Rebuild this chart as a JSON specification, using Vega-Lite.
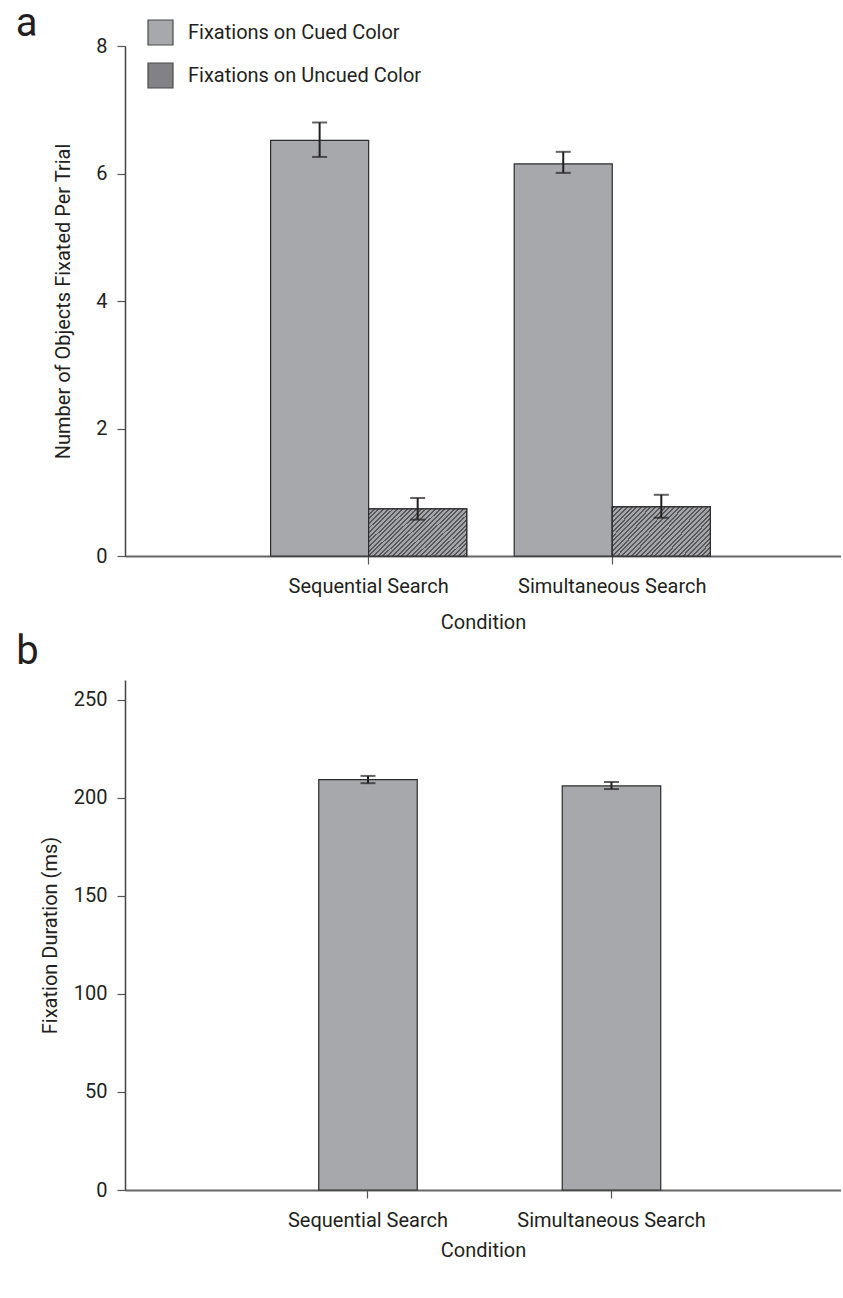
{
  "$schema": "https://vega.github.io/schema/vega-lite/v6.json",
  "background": "white",
  "padding": {"left": 15, "top": 4, "right": 0, "bottom": 0},
  "spacing": 0,
  "config": {
    "font": "Roboto",
    "view": {"stroke": null},
    "axis": {
      "labelFont": "Roboto",
      "titleFont": "Roboto",
      "labelFontSize": 20,
      "titleFontSize": 20,
      "titleFontWeight": "normal",
      "labelColor": "#231f20",
      "titleColor": "#231f20",
      "labelLimit": 500,
      "grid": false,
      "tickSize": 8,
      "tickColor": "#555555",
      "tickWidth": 1.2,
      "domainColor": "#444444",
      "domainWidth": 1.5
    },
    "title": {"font": "Roboto", "fontSize": 40, "fontWeight": "normal", "color": "#231f20", "anchor": "start", "frame": "bounds"},
    "legend": {
      "labelFont": "Roboto",
      "labelFontSize": 20,
      "labelColor": "#231f20",
      "labelLimit": 500
    }
  },
  "datasets": {
    "panelA": [
      {"condition": "Sequential Search", "fixation": "Fixations on Cued Color", "mean": 6.52, "lo": 6.26, "hi": 6.80},
      {"condition": "Sequential Search", "fixation": "Fixations on Uncued Color", "mean": 0.74, "lo": 0.57, "hi": 0.91},
      {"condition": "Simultaneous Search", "fixation": "Fixations on Cued Color", "mean": 6.15, "lo": 6.01, "hi": 6.34},
      {"condition": "Simultaneous Search", "fixation": "Fixations on Uncued Color", "mean": 0.77, "lo": 0.60, "hi": 0.96}
    ],
    "panelB": [
      {"condition": "Sequential Search", "duration": 209.2, "lo": 207.4, "hi": 211.1},
      {"condition": "Simultaneous Search", "duration": 206.0, "lo": 204.4, "hi": 208.0}
    ]
  },
  "vconcat": [
    {
      "width": 716,
      "height": 510,
      "title": {"text": "a", "dx": -38, "offset": -8},
      "data": {"name": "panelA"},
      "encoding": {
        "x": {"field": "condition", "type": "nominal", "sort": null, "title": "Condition",
          "scale": {"paddingInner": 0.195, "paddingOuter": 0.567, "align": 0.527},
          "axis": {"labelAngle": 0, "labelPadding": 12, "titlePadding": 16, "domainColor": "#666666", "domainWidth": 2}},
        "xOffset": {"field": "fixation", "type": "nominal", "sort": null, "scale": {"paddingInner": 0, "paddingOuter": 0}}
      },
      "layer": [
        {
          "mark": {"type": "bar", "stroke": "#2b2b2b", "strokeWidth": 1.2},
          "encoding": {
            "y": {"field": "mean", "type": "quantitative", "title": "Number of Objects Fixated Per Trial",
              "scale": {"domain": [0, 8]},
              "axis": {"values": [0, 2, 4, 6, 8], "format": "d", "labelPadding": 10, "titlePadding": 22}},
            "color": {"field": "fixation", "type": "nominal", "sort": null,
              "scale": {"domain": ["Fixations on Cued Color", "Fixations on Uncued Color"], "range": ["#a7a8ac", "#828286"]},
              "legend": {
                "title": null, "orient": "none", "legendX": 22, "legendY": -27,
                "symbolType": "square", "symbolSize": 625, "symbolStrokeColor": "#4a4a4a", "symbolStrokeWidth": 1.2,
                "rowPadding": 12, "labelOffset": 14
              }
            }
          }
        },
        {
          "transform": [{"filter": "datum.fixation === 'Fixations on Uncued Color'"}],
          "mark": {"type": "bar", "stroke": "#2b2b2b", "strokeWidth": 1.2,
            "fill": {"gradient": "linear", "x1": 0, "y1": 0, "x2": 1.2016, "y2": 0.5885, "stops": [
              {"offset": 0, "color": "#58585b"}, {"offset": 0.0135, "color": "#58585b"}, {"offset": 0.0135, "color": "#a5a6aa"}, {"offset": 0.0323, "color": "#a5a6aa"},
              {"offset": 0.0323, "color": "#58585b"}, {"offset": 0.0458, "color": "#58585b"}, {"offset": 0.0458, "color": "#a5a6aa"}, {"offset": 0.0645, "color": "#a5a6aa"},
              {"offset": 0.0645, "color": "#58585b"}, {"offset": 0.0780, "color": "#58585b"}, {"offset": 0.0780, "color": "#a5a6aa"}, {"offset": 0.0968, "color": "#a5a6aa"},
              {"offset": 0.0968, "color": "#58585b"}, {"offset": 0.1103, "color": "#58585b"}, {"offset": 0.1103, "color": "#a5a6aa"}, {"offset": 0.1290, "color": "#a5a6aa"},
              {"offset": 0.1290, "color": "#58585b"}, {"offset": 0.1425, "color": "#58585b"}, {"offset": 0.1425, "color": "#a5a6aa"}, {"offset": 0.1613, "color": "#a5a6aa"},
              {"offset": 0.1613, "color": "#58585b"}, {"offset": 0.1748, "color": "#58585b"}, {"offset": 0.1748, "color": "#a5a6aa"}, {"offset": 0.1935, "color": "#a5a6aa"},
              {"offset": 0.1935, "color": "#58585b"}, {"offset": 0.2070, "color": "#58585b"}, {"offset": 0.2070, "color": "#a5a6aa"}, {"offset": 0.2258, "color": "#a5a6aa"},
              {"offset": 0.2258, "color": "#58585b"}, {"offset": 0.2393, "color": "#58585b"}, {"offset": 0.2393, "color": "#a5a6aa"}, {"offset": 0.2581, "color": "#a5a6aa"},
              {"offset": 0.2581, "color": "#58585b"}, {"offset": 0.2716, "color": "#58585b"}, {"offset": 0.2716, "color": "#a5a6aa"}, {"offset": 0.2903, "color": "#a5a6aa"},
              {"offset": 0.2903, "color": "#58585b"}, {"offset": 0.3038, "color": "#58585b"}, {"offset": 0.3038, "color": "#a5a6aa"}, {"offset": 0.3226, "color": "#a5a6aa"},
              {"offset": 0.3226, "color": "#58585b"}, {"offset": 0.3361, "color": "#58585b"}, {"offset": 0.3361, "color": "#a5a6aa"}, {"offset": 0.3548, "color": "#a5a6aa"},
              {"offset": 0.3548, "color": "#58585b"}, {"offset": 0.3683, "color": "#58585b"}, {"offset": 0.3683, "color": "#a5a6aa"}, {"offset": 0.3871, "color": "#a5a6aa"},
              {"offset": 0.3871, "color": "#58585b"}, {"offset": 0.4006, "color": "#58585b"}, {"offset": 0.4006, "color": "#a5a6aa"}, {"offset": 0.4194, "color": "#a5a6aa"},
              {"offset": 0.4194, "color": "#58585b"}, {"offset": 0.4329, "color": "#58585b"}, {"offset": 0.4329, "color": "#a5a6aa"}, {"offset": 0.4516, "color": "#a5a6aa"},
              {"offset": 0.4516, "color": "#58585b"}, {"offset": 0.4651, "color": "#58585b"}, {"offset": 0.4651, "color": "#a5a6aa"}, {"offset": 0.4839, "color": "#a5a6aa"},
              {"offset": 0.4839, "color": "#58585b"}, {"offset": 0.4974, "color": "#58585b"}, {"offset": 0.4974, "color": "#a5a6aa"}, {"offset": 0.5161, "color": "#a5a6aa"},
              {"offset": 0.5161, "color": "#58585b"}, {"offset": 0.5296, "color": "#58585b"}, {"offset": 0.5296, "color": "#a5a6aa"}, {"offset": 0.5484, "color": "#a5a6aa"},
              {"offset": 0.5484, "color": "#58585b"}, {"offset": 0.5619, "color": "#58585b"}, {"offset": 0.5619, "color": "#a5a6aa"}, {"offset": 0.5806, "color": "#a5a6aa"},
              {"offset": 0.5806, "color": "#58585b"}, {"offset": 0.5941, "color": "#58585b"}, {"offset": 0.5941, "color": "#a5a6aa"}, {"offset": 0.6129, "color": "#a5a6aa"},
              {"offset": 0.6129, "color": "#58585b"}, {"offset": 0.6264, "color": "#58585b"}, {"offset": 0.6264, "color": "#a5a6aa"}, {"offset": 0.6452, "color": "#a5a6aa"},
              {"offset": 0.6452, "color": "#58585b"}, {"offset": 0.6587, "color": "#58585b"}, {"offset": 0.6587, "color": "#a5a6aa"}, {"offset": 0.6774, "color": "#a5a6aa"},
              {"offset": 0.6774, "color": "#58585b"}, {"offset": 0.6909, "color": "#58585b"}, {"offset": 0.6909, "color": "#a5a6aa"}, {"offset": 0.7097, "color": "#a5a6aa"},
              {"offset": 0.7097, "color": "#58585b"}, {"offset": 0.7232, "color": "#58585b"}, {"offset": 0.7232, "color": "#a5a6aa"}, {"offset": 0.7419, "color": "#a5a6aa"},
              {"offset": 0.7419, "color": "#58585b"}, {"offset": 0.7554, "color": "#58585b"}, {"offset": 0.7554, "color": "#a5a6aa"}, {"offset": 0.7742, "color": "#a5a6aa"},
              {"offset": 0.7742, "color": "#58585b"}, {"offset": 0.7877, "color": "#58585b"}, {"offset": 0.7877, "color": "#a5a6aa"}, {"offset": 0.8065, "color": "#a5a6aa"},
              {"offset": 0.8065, "color": "#58585b"}, {"offset": 0.8200, "color": "#58585b"}, {"offset": 0.8200, "color": "#a5a6aa"}, {"offset": 0.8387, "color": "#a5a6aa"},
              {"offset": 0.8387, "color": "#58585b"}, {"offset": 0.8522, "color": "#58585b"}, {"offset": 0.8522, "color": "#a5a6aa"}, {"offset": 0.8710, "color": "#a5a6aa"},
              {"offset": 0.8710, "color": "#58585b"}, {"offset": 0.8845, "color": "#58585b"}, {"offset": 0.8845, "color": "#a5a6aa"}, {"offset": 0.9032, "color": "#a5a6aa"},
              {"offset": 0.9032, "color": "#58585b"}, {"offset": 0.9167, "color": "#58585b"}, {"offset": 0.9167, "color": "#a5a6aa"}, {"offset": 0.9355, "color": "#a5a6aa"},
              {"offset": 0.9355, "color": "#58585b"}, {"offset": 0.9490, "color": "#58585b"}, {"offset": 0.9490, "color": "#a5a6aa"}, {"offset": 0.9677, "color": "#a5a6aa"},
              {"offset": 0.9677, "color": "#58585b"}, {"offset": 0.9812, "color": "#58585b"}, {"offset": 0.9812, "color": "#a5a6aa"}, {"offset": 1, "color": "#a5a6aa"}
            ]}},
          "encoding": {
            "y": {"field": "mean", "type": "quantitative", "title": "Number of Objects Fixated Per Trial"}
          }
        },
        {
          "mark": {"type": "rule", "color": "#231f20", "strokeWidth": 2},
          "encoding": {
            "y": {"field": "lo", "type": "quantitative", "title": "Number of Objects Fixated Per Trial"},
            "y2": {"field": "hi"}
          }
        },
        {
          "mark": {"type": "tick", "color": "#231f20", "thickness": 2, "size": 15},
          "encoding": {"y": {"field": "hi", "type": "quantitative", "title": "Number of Objects Fixated Per Trial"}}
        },
        {
          "mark": {"type": "tick", "color": "#231f20", "thickness": 2, "size": 15},
          "encoding": {"y": {"field": "lo", "type": "quantitative", "title": "Number of Objects Fixated Per Trial"}}
        }
      ]
    },
    {
      "width": 716,
      "height": 510,
      "title": {"text": "b", "dx": -24, "offset": 8},
      "data": {"name": "panelB"},
      "encoding": {
        "x": {"field": "condition", "type": "nominal", "sort": null, "title": "Condition",
          "scale": {"paddingInner": 0.5955, "paddingOuter": 0.768, "align": 0.518},
          "axis": {"labelAngle": 0, "labelPadding": 12, "titlePadding": 10, "domainColor": "#666666", "domainWidth": 2}}
      },
      "layer": [
        {
          "mark": {"type": "bar", "stroke": "#2b2b2b", "strokeWidth": 1.2, "fill": "#a7a8ac"},
          "encoding": {
            "y": {"field": "duration", "type": "quantitative", "title": "Fixation Duration (ms)",
              "scale": {"domain": [0, 250]},
              "axis": {"values": [0, 50, 100, 150, 200, 250], "labelPadding": 10, "titlePadding": 13}}
          }
        },
        {
          "mark": {"type": "rule", "color": "#231f20", "strokeWidth": 2},
          "encoding": {
            "y": {"field": "lo", "type": "quantitative", "title": "Fixation Duration (ms)"},
            "y2": {"field": "hi"}
          }
        },
        {
          "mark": {"type": "tick", "color": "#231f20", "thickness": 2, "size": 15},
          "encoding": {"y": {"field": "hi", "type": "quantitative", "title": "Fixation Duration (ms)"}}
        },
        {
          "mark": {"type": "tick", "color": "#231f20", "thickness": 2, "size": 15},
          "encoding": {"y": {"field": "lo", "type": "quantitative", "title": "Fixation Duration (ms)"}}
        }
      ]
    }
  ]
}
